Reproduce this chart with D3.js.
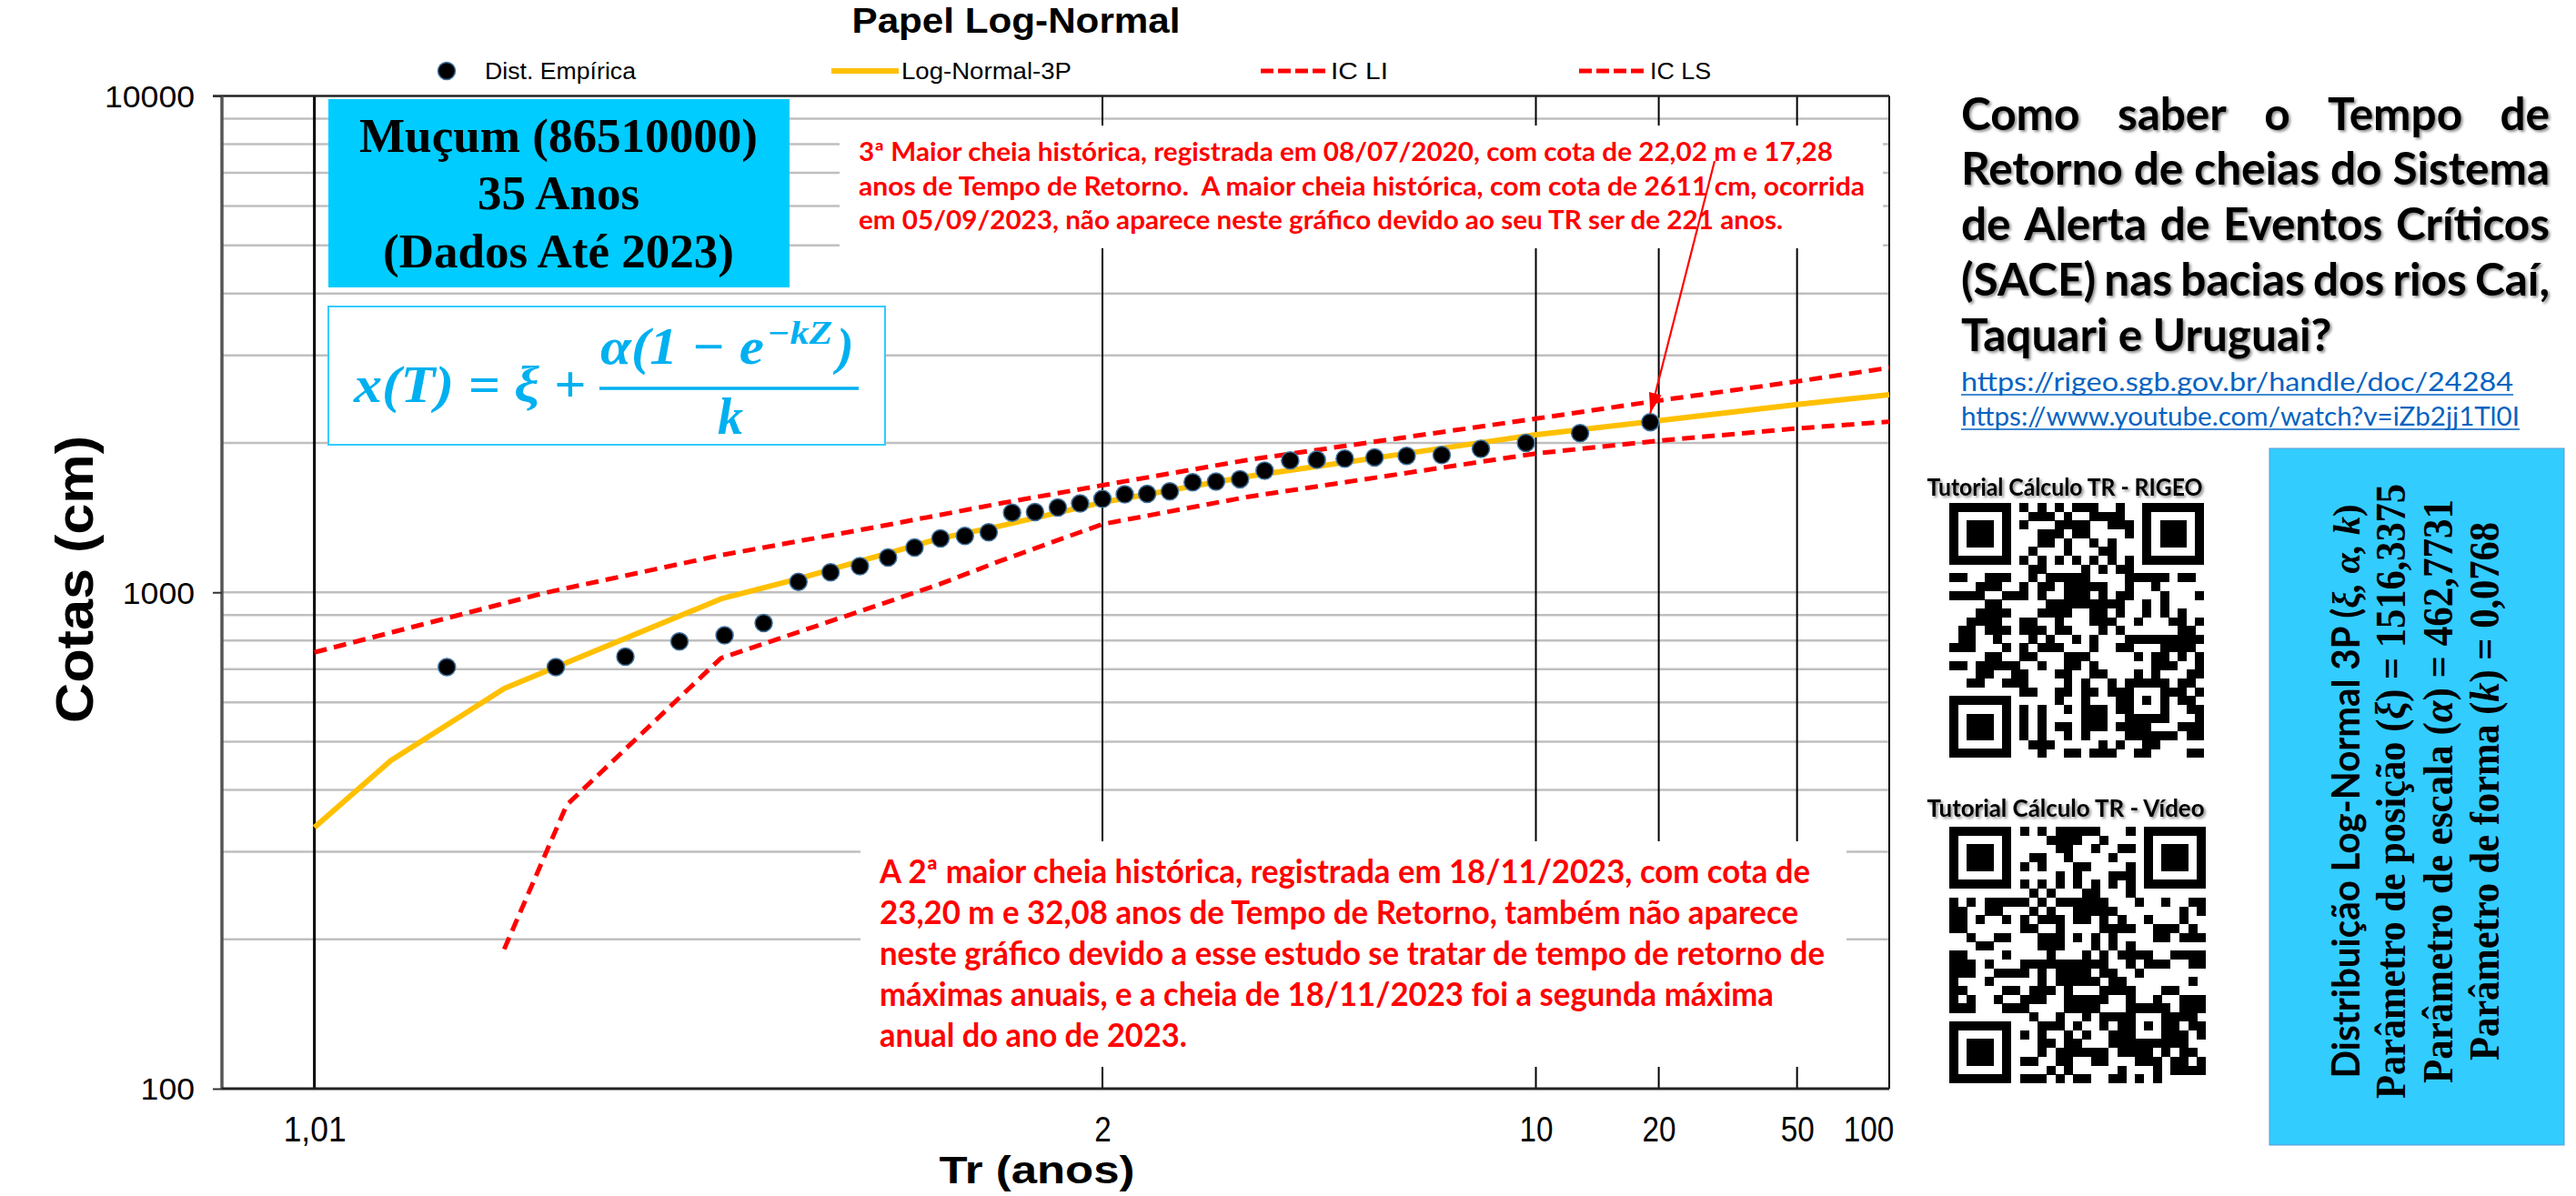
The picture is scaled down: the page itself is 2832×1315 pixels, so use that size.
<!DOCTYPE html>
<html><head><meta charset="utf-8">
<script src="https://cdn.jsdelivr.net/npm/d3@7"></script>
<style>
html,body{margin:0;padding:0;background:#fff;}
svg{display:block;}
text{white-space:pre;}
</style></head>
<body>
<svg id="chart" width="2832" height="1315">
<defs>
<filter id="shadow" x="-5%" y="-20%" width="110%" height="150%"><feDropShadow dx="2" dy="2" stdDeviation="1.6" flood-color="#000" flood-opacity="0.45"/></filter>
</defs>
</svg>
<script>
// ---------------- DATA ----------------
// Empirical distribution (Tr in years, cota in cm)
const empTr = [19.0, 12.667, 9.5, 7.6, 6.333, 5.429, 4.75, 4.222, 3.8, 3.455, 3.167, 2.923, 2.714, 2.533, 2.375, 2.235, 2.111, 2.0, 1.9, 1.81, 1.727, 1.652, 1.583, 1.52, 1.462, 1.407, 1.357, 1.31, 1.267, 1.226, 1.188, 1.152, 1.118, 1.086, 1.056, 1.027];
const empCota = [2202, 2092, 2000, 1945, 1891, 1883, 1870, 1859, 1849, 1844, 1758, 1690, 1671, 1666, 1597, 1579, 1575, 1542, 1510, 1482, 1451, 1447, 1321, 1299, 1284, 1231, 1175, 1129, 1097, 1050, 867, 819, 796, 742, 707, 707];
// Log-Normal-3P fitted curve
const fitTr = [1.01, 1.018, 1.04, 1.149, 1.226, 1.29, 1.462, 1.615, 2, 3, 5, 10, 20, 50, 100];
const fitCota = [336, 458, 640, 970, 1065, 1135, 1285, 1360, 1518, 1712, 1880, 2078, 2218, 2390, 2500];
// Confidence interval - lower
const liTr = [1.04, 1.06, 1.149, 1.29, 1.462, 1.615, 2, 3, 5, 10, 20, 50, 100];
const liCota = [191, 373, 737, 897, 1040, 1156, 1372, 1558, 1716, 1904, 2020, 2139, 2207];
// Confidence interval - upper
const lsTr = [1.01, 1.052, 1.149, 1.33, 1.615, 2, 3, 5, 10, 20, 50, 100];
const lsCota = [757, 997, 1188, 1349, 1510, 1643, 1849, 2028, 2238, 2434, 2660, 2834];
// Axes
const xTicks = [1.01, 2, 10, 20, 50, 100];
const xTickLabels = ["1,01", "2", "10", "20", "50", "100"];
const yTicks = [100, 1000, 10000];
const yMinor = [200,300,400,500,600,700,800,900,2000,3000,4000,5000,6000,7000,8000,9000];
const seriesNames = ["Dist. Empírica", "Log-Normal-3P", "IC LI", "IC LS"];

// ---------------- HELPERS ----------------
function probit(p){
  const a=[-39.69683028665376,220.9460984245205,-275.9285104469687,138.3577518672690,-30.66479806614716,2.506628277459239];
  const b=[-54.47609879822406,161.5858368580409,-155.6989798598866,66.80131188771972,-13.28068155211301];
  const c=[-0.007784894002430293,-0.3223964580411365,-2.400758277161838,-2.549732539343734,4.374664141464968,2.938163982698783];
  const d=[0.007784695709041462,0.3224671290700398,2.445134137142996,3.754408661907416];
  const pl=0.02425, ph=1-pl; let q,r;
  if(p<pl){q=Math.sqrt(-2*Math.log(p));return (((((c[0]*q+c[1])*q+c[2])*q+c[3])*q+c[4])*q+c[5])/((((d[0]*q+d[1])*q+d[2])*q+d[3])*q+1);}
  if(p<=ph){q=p-0.5;r=q*q;return (((((a[0]*r+a[1])*r+a[2])*r+a[3])*r+a[4])*r+a[5])*q/(((((b[0]*r+b[1])*r+b[2])*r+b[3])*r+b[4])*r+1);}
  q=Math.sqrt(-2*Math.log(1-p));return -(((((c[0]*q+c[1])*q+c[2])*q+c[3])*q+c[4])*q+c[5])/((((d[0]*q+d[1])*q+d[2])*q+d[3])*q+1);
}
const zOf = tr => probit(1 - 1/tr);

// ---------------- LAYOUT ----------------
const svg = d3.select('#chart');
const L = 244, R = 2077, T = 105.5, B = 1197;
const xz = d3.scaleLinear().domain([-2.6034, zOf(100)]).range([L, R]);
const X = tr => xz(zOf(tr));
const y = d3.scaleLog().domain([100, 10000]).range([B, T]);

const SANS = "'Liberation Sans', Arial, sans-serif";
const SERIF = "'Liberation Serif', 'Times New Roman', serif";
const CAL = "Lato, 'Open Sans', sans-serif";

// gridlines
const grid = svg.append('g');
grid.selectAll('line.h').data(yMinor.concat([1000])).join('line')
  .attr('x1', L).attr('x2', R).attr('y1', d=>y(d)).attr('y2', d=>y(d))
  .attr('stroke', '#bfbfbf').attr('stroke-width', 2.5);
grid.selectAll('line.v').data(xTicks).join('line')
  .attr('x1', d=>X(d)).attr('x2', d=>X(d)).attr('y1', T).attr('y2', B)
  .attr('stroke', '#000').attr('stroke-width', (d,i)=> i===0 ? 3 : 2);
// frame
grid.append('line').attr('x1', L-10).attr('x2', R).attr('y1', T).attr('y2', T).attr('stroke', '#222').attr('stroke-width', 2.5);
grid.append('line').attr('x1', L).attr('x2', L).attr('y1', T).attr('y2', B).attr('stroke', '#555').attr('stroke-width', 3.5);

// Y axis
const yAxis = svg.append('g').attr('transform', `translate(${L},0)`)
  .call(d3.axisLeft(y).tickValues(yTicks).tickFormat(d3.format('d')).tickSize(10).tickSizeOuter(0).tickPadding(20));
yAxis.select('.domain').remove();
yAxis.selectAll('.tick line').attr('stroke', '#333').attr('stroke-width', 2);
yAxis.selectAll('.tick text').attr('font-family', SANS).attr('font-size', 33).attr('fill', '#000')
  .attr('x', -30).attr('dy', '0.36em')
  .attr('textLength', d => String(d).length * 19.8).attr('lengthAdjust', 'spacingAndGlyphs');

// X axis
const xAxis = svg.append('g').attr('transform', `translate(0,${B})`)
  .call(d3.axisBottom(xz).tickValues(xTicks.map(zOf)).tickFormat((d,i)=>xTickLabels[i]).tickSize(0).tickSizeOuter(0));
xAxis.select('.domain').attr('stroke', '#222').attr('stroke-width', 3).attr('d', `M${L},0H${R}`);
xAxis.selectAll('.tick text').attr('font-family', SANS).attr('font-size', 38).attr('fill', '#000')
  .attr('y', 58).attr('dy', 0)
  .attr('dx', (d,i)=> i===xTicks.length-1 ? -23 : 0)
  .attr('textLength', (d,i)=> xTickLabels[i]==="1,01" ? 69 : xTickLabels[i].length*18.5)
  .attr('lengthAdjust', 'spacingAndGlyphs');

// axis titles
svg.append('text').attr('x', 1140).attr('y', 1301).attr('text-anchor', 'middle')
  .attr('font-family', SANS).attr('font-weight', 'bold').attr('font-size', 43)
  .attr('textLength', 215).attr('lengthAdjust', 'spacingAndGlyphs').text('Tr (anos)');
svg.append('text').attr('transform', 'translate(102,637) rotate(-90)').attr('text-anchor', 'middle')
  .attr('font-family', SANS).attr('font-weight', 'bold').attr('font-size', 58)
  .attr('textLength', 316).attr('lengthAdjust', 'spacingAndGlyphs').text('Cotas (cm)');

// Title
svg.append('text').attr('x', 1117).attr('y', 36).attr('text-anchor', 'middle')
  .attr('font-family', SANS).attr('font-weight', 'bold').attr('font-size', 39)
  .attr('textLength', 361).attr('lengthAdjust', 'spacingAndGlyphs').text('Papel Log-Normal');

// Legend
const lg = svg.append('g').attr('font-family', SANS).attr('font-size', 25);
lg.append('circle').attr('cx', 491).attr('cy', 78).attr('r', 9.5).attr('fill', '#000').attr('stroke', '#41719c').attr('stroke-width', 1.5);
lg.append('text').attr('x', 533).attr('y', 87).attr('textLength', 166).attr('lengthAdjust', 'spacingAndGlyphs').text(seriesNames[0]);
lg.append('line').attr('x1', 914).attr('x2', 988).attr('y1', 78).attr('y2', 78).attr('stroke', '#ffc000').attr('stroke-width', 6);
lg.append('text').attr('x', 991).attr('y', 87).attr('textLength', 187).attr('lengthAdjust', 'spacingAndGlyphs').text(seriesNames[1]);
lg.append('line').attr('x1', 1386).attr('x2', 1459).attr('y1', 78).attr('y2', 78).attr('stroke', '#ff0000').attr('stroke-width', 5).attr('stroke-dasharray', '14,5');
lg.append('text').attr('x', 1463).attr('y', 87).attr('textLength', 63).attr('lengthAdjust', 'spacingAndGlyphs').text(seriesNames[2]);
lg.append('line').attr('x1', 1736).attr('x2', 1807).attr('y1', 78).attr('y2', 78).attr('stroke', '#ff0000').attr('stroke-width', 5).attr('stroke-dasharray', '14,5');
lg.append('text').attr('x', 1814).attr('y', 87).attr('textLength', 67).attr('lengthAdjust', 'spacingAndGlyphs').text(seriesNames[3]);

// Boxes inside plot
svg.append('rect').attr('x', 361).attr('y', 109).attr('width', 507).attr('height', 207).attr('fill', '#00ccff');
const mb = svg.append('g').attr('font-family', SERIF).attr('font-weight', 'bold').attr('text-anchor', 'middle').attr('font-size', 52);
mb.append('text').attr('x', 614).attr('y', 167).attr('textLength', 438).attr('lengthAdjust', 'spacingAndGlyphs').text('Muçum (86510000)');
mb.append('text').attr('x', 614).attr('y', 230).attr('textLength', 178).attr('lengthAdjust', 'spacingAndGlyphs').text('35 Anos');
mb.append('text').attr('x', 614).attr('y', 294).attr('textLength', 386).attr('lengthAdjust', 'spacingAndGlyphs').text('(Dados Até 2023)');

svg.append('rect').attr('x', 361).attr('y', 337).attr('width', 612).attr('height', 152).attr('fill', '#fff').attr('stroke', '#33ccff').attr('stroke-width', 2);
const fm = svg.append('g').attr('font-family', SERIF).attr('font-weight', 'bold').attr('font-style', 'italic').attr('fill', '#00b0f0');
fm.append('text').attr('x', 389).attr('y', 442).attr('font-size', 56).attr('textLength', 255).attr('lengthAdjust', 'spacingAndGlyphs').text('x(T) = ξ +');
fm.append('text').attr('x', 660).attr('y', 400).attr('font-size', 56).attr('textLength', 180).attr('lengthAdjust', 'spacingAndGlyphs').text('α(1 − e');
fm.append('text').attr('x', 843).attr('y', 378).attr('font-size', 36).attr('textLength', 72).attr('lengthAdjust', 'spacingAndGlyphs').text('−kZ');
fm.append('text').attr('x', 920).attr('y', 400).attr('font-size', 56).text(')');
fm.append('line').attr('x1', 659).attr('x2', 944).attr('y1', 427).attr('y2', 427).attr('stroke', '#00b0f0').attr('stroke-width', 3.5);
fm.append('text').attr('x', 803).attr('y', 477).attr('font-size', 56).attr('text-anchor', 'middle').text('k');

// Annotation boxes
svg.append('rect').attr('x', 923).attr('y', 138).attr('width', 1147).attr('height', 135).attr('fill', '#fff');
svg.append('rect').attr('x', 946).attr('y', 925).attr('width', 1084).attr('height', 248).attr('fill', '#fff');

const topNote = ["3ª Maior cheia histórica, registrada em 08/07/2020, com cota de 22,02 m e 17,28",
  "anos de Tempo de Retorno.  A maior cheia histórica, com cota de 2611 cm, ocorrida",
  "em 05/09/2023, não aparece neste gráfico devido ao seu TR ser de 221 anos."];
const topW = [1071, 1106, 1016], topY = [177, 215, 252];
const tn = svg.append('g').attr('font-family', CAL).attr('font-weight', 'bold').attr('font-size', 28).attr('fill', '#ff0000');
topNote.forEach((s,i)=> tn.append('text').attr('x', 944).attr('y', topY[i]).attr('textLength', topW[i]).attr('lengthAdjust', 'spacingAndGlyphs').text(s));

const botNote = ["A 2ª maior cheia histórica, registrada em 18/11/2023, com cota de",
  "23,20 m e 32,08 anos de Tempo de Retorno, também não aparece",
  "neste gráfico devido a esse estudo se tratar de tempo de retorno de",
  "máximas anuais, e a cheia de 18/11/2023 foi a segunda máxima",
  "anual do ano de 2023."];
const botW = [1023, 1010, 1039, 983, 338], botY = [971, 1016, 1061, 1106, 1151];
const bn = svg.append('g').attr('font-family', CAL).attr('font-weight', 'bold').attr('font-size', 36).attr('fill', '#ff0000');
botNote.forEach((s,i)=> bn.append('text').attr('x', 967).attr('y', botY[i]).attr('textLength', botW[i]).attr('lengthAdjust', 'spacingAndGlyphs').text(s));

// Series
const lineGen = d3.line().x(d=>X(d[0])).y(d=>y(d[1]));
svg.append('path').attr('d', lineGen(d3.zip(liTr, liCota))).attr('fill', 'none').attr('stroke', '#ff0000').attr('stroke-width', 5).attr('stroke-dasharray', '14,8');
svg.append('path').attr('d', lineGen(d3.zip(lsTr, lsCota))).attr('fill', 'none').attr('stroke', '#ff0000').attr('stroke-width', 5).attr('stroke-dasharray', '14,8');
svg.append('path').attr('d', lineGen(d3.zip(fitTr, fitCota))).attr('fill', 'none').attr('stroke', '#ffc000').attr('stroke-width', 6).attr('stroke-linejoin', 'round');
svg.append('g').selectAll('circle').data(d3.zip(empTr, empCota)).join('circle')
  .attr('cx', d=>X(d[0])).attr('cy', d=>y(d[1])).attr('r', 9.5)
  .attr('fill', '#000').attr('stroke', '#41719c').attr('stroke-width', 1.5);

// Arrow to 3rd largest flood
const tipX = X(empTr[0]), tipY = y(empCota[0]) - 10;
const tailX = 1885, tailY = 177;
svg.append('line').attr('x1', tailX).attr('y1', tailY).attr('x2', tipX).attr('y2', tipY).attr('stroke', '#ff0000').attr('stroke-width', 2.2);
{
  const ang = Math.atan2(tipY - tailY, tipX - tailX);
  const len = 22, w = 7;
  const bx = tipX - len*Math.cos(ang), by = tipY - len*Math.sin(ang);
  const px = -Math.sin(ang)*w, py = Math.cos(ang)*w;
  svg.append('path').attr('d', `M${tipX},${tipY}L${bx+px},${by+py}L${bx-px},${by-py}Z`).attr('fill', '#ff0000');
}

// ---------------- RIGHT PANEL ----------------
const rp = svg.append('g').attr('font-family', CAL).attr('font-weight', 'bold').attr('fill', '#000').attr('filter', 'url(#shadow)');
const qLines = [["Como","saber","o","Tempo","de"],["Retorno","de","cheias","do","Sistema"],["de","Alerta","de","Eventos","Críticos"],["(SACE)","nas","bacias","dos","rios","Caí,"],["Taquari","e","Uruguai?"]];
const qY = [143, 203, 264, 325, 386];
const x0 = 2156, x1 = 2803;
// size the font so that line 2 fits the justified width with normal spacing
const probe = rp.append('text').attr('font-size', 40).text(qLines[1].join(' '));
const fsQ = 40 * (x1 - x0) / probe.node().getComputedTextLength();
probe.remove();
qLines.forEach((words, li) => {
  const nodes = words.map(w => rp.append('text').attr('y', qY[li]).attr('font-size', fsQ).text(w));
  const widths = nodes.map(n => n.node().getComputedTextLength());
  const justify = li < qLines.length - 1;
  const gap = justify ? (x1 - x0 - d3.sum(widths)) / (words.length - 1) : fsQ * 0.23;
  let xx = x0;
  nodes.forEach((n,i) => { n.attr('x', xx); xx += widths[i] + gap; });
});

const links = ["https://rigeo.sgb.gov.br/handle/doc/24284", "https://www.youtube.com/watch?v=iZb2jj1Tl0I"];
const linkW = [607, 614], linkY = [430, 468];
links.forEach((s,i) => {
  svg.append('text').attr('x', x0).attr('y', linkY[i]).attr('font-family', CAL).attr('font-size', 28).attr('fill', '#0563c1')
    .attr('textLength', linkW[i]).attr('lengthAdjust', 'spacingAndGlyphs').text(s);
  svg.append('line').attr('x1', x0).attr('x2', x0 + linkW[i]).attr('y1', linkY[i] + 4).attr('y2', linkY[i] + 4).attr('stroke', '#0563c1').attr('stroke-width', 1.6);
});

// QR codes (decorative)
function hash(a,b,c){ let h = Math.imul(a+1,374761393) + Math.imul(b+7,668265263) + Math.imul(c+3,1274126177); h = Math.imul(h ^ (h>>>13), 1274126177); h ^= h>>>16; return (h>>>0)/4294967296; }
function drawQR(x, yy, size, seed){
  const N = 29, m = size / N;
  const cells = [];
  const inFinder = (i,j,fi,fj) => i>=fi-1 && i<=fi+7 && j>=fj-1 && j<=fj+7;
  for (let i=0;i<N;i++) for (let j=0;j<N;j++){
    let on;
    const finders = [[0,0],[0,N-7],[N-7,0]];
    let f = finders.find(([fi,fj]) => inFinder(i,j,fi,fj));
    if (f){
      const di = i - f[0], dj = j - f[1];
      if (di<0||dj<0||di>6||dj>6) on = false;
      else on = (di===0||di===6||dj===0||dj===6) || (di>=2&&di<=4&&dj>=2&&dj<=4);
    } else if (i>=20 && i<=24 && j>=20 && j<=24){
      const di=i-22, dj=j-22; on = Math.max(Math.abs(di),Math.abs(dj)) !== 1;
    } else if (i===6) on = j%2===0;
    else if (j===6) on = i%2===0;
    else on = hash(i,j,seed) < 0.5;
    if (on) cells.push([i,j]);
  }
  svg.append('g').attr('shape-rendering', 'crispEdges').selectAll('rect').data(cells).join('rect')
    .attr('x', d=>x + d[1]*m).attr('y', d=>yy + d[0]*m).attr('width', m+0.3).attr('height', m+0.3).attr('fill', '#000');
}
drawQR(2143, 553, 280, 11);
drawQR(2143, 909, 282, 29);
const ql = svg.append('g').attr('font-family', CAL).attr('font-weight', 'bold').attr('font-size', 27).attr('text-anchor', 'middle').attr('filter', 'url(#shadow)');
ql.append('text').attr('x', 2270).attr('y', 545).attr('textLength', 303).attr('lengthAdjust', 'spacingAndGlyphs').text('Tutorial Cálculo TR - RIGEO');
ql.append('text').attr('x', 2271).attr('y', 898).attr('textLength', 305).attr('lengthAdjust', 'spacingAndGlyphs').text('Tutorial Cálculo TR - Vídeo');

// Parameter box
svg.append('rect').attr('x', 2495).attr('y', 493).attr('width', 324).attr('height', 766).attr('fill', '#33ccff').attr('stroke', '#5b9bd5').attr('stroke-width', 1);
const pCY = 870;
const pb = svg.append('g').attr('fill', '#000');
function rotText(cx, len, fam, fs, parts){
  const t = pb.append('text').attr('transform', `translate(${cx},${pCY}) rotate(-90)`).attr('text-anchor', 'middle')
    .attr('font-family', fam).attr('font-weight', 'bold').attr('font-size', fs)
    .attr('textLength', len).attr('lengthAdjust', 'spacingAndGlyphs');
  parts.forEach(p => t.append('tspan').attr('font-style', p[1] ? 'italic' : 'normal').attr('font-family', p[2] || null).text(p[0]));
}
rotText(2594, 631, CAL, 42, [["Distribuição Log-Normal 3P (", false], ["ξ, α, k", true, SERIF], [")", false, SERIF]]);
rotText(2644, 676, SERIF, 46, [["Parâmetro de posição (", false], ["ξ", true], [") = 1516,3375", false]]);
rotText(2696, 642, SERIF, 46, [["Parâmetro de escala (", false], ["α", true], [") = 462,7731", false]]);
rotText(2747, 592, SERIF, 46, [["Parâmetro de forma (", false], ["k", true], [") = 0,0768", false]]);
</script>
</body></html>
